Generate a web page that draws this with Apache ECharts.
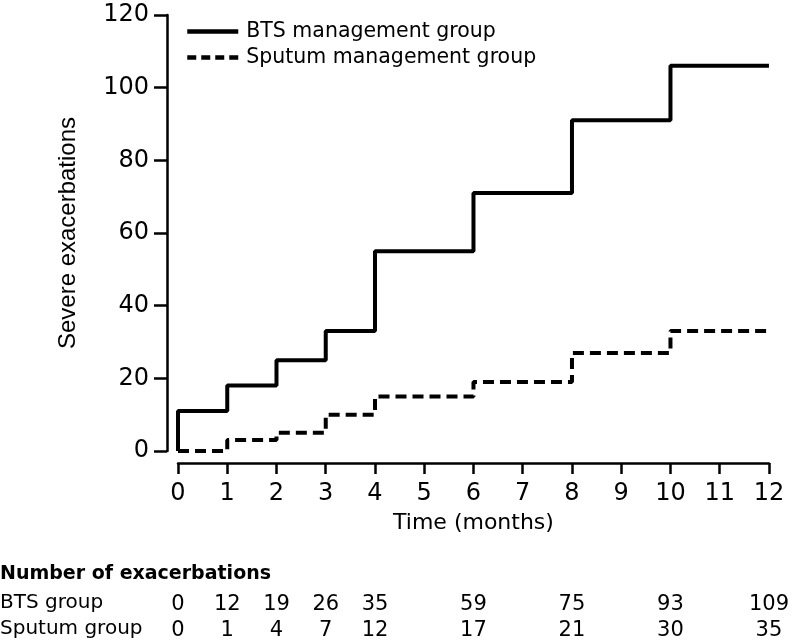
<!DOCTYPE html>
<html><head><meta charset="utf-8">
<script src="https://cdn.jsdelivr.net/npm/echarts@6/dist/echarts.min.js"></script>
<style>html,body{margin:0;padding:0;background:#fff}#c{width:792px;height:644px}</style>
</head><body><div id="c"></div>
<script>
const months = [0, 0, 1, 2, 3, 4, 6, 8, 10, 12];
const btsLevels = [0, 11, 18, 25, 33, 55, 71, 91, 106, 106];
const sputumLevels = [0, 0, 3, 5, 10, 15, 19, 27, 33, 33];
const seriesNames = ['BTS management group', 'Sputum management group'];
const tableMonths = [0, 1, 2, 3, 4, 6, 8, 10, 12];
const btsCounts = [0, 12, 19, 26, 35, 59, 75, 93, 109];
const sputumCounts = [0, 1, 4, 7, 12, 17, 21, 30, 35];
const rowNames = ['BTS group', 'Sputum group'];
const tableTitle = 'Number of exacerbations';
const xTicks = [0,1,2,3,4,5,6,7,8,9,10,11,12];

const dj = '"DejaVu Sans", sans-serif';
const chart = echarts.init(document.getElementById('c'), null, {renderer: 'canvas'});
function tableAxis(counts, off) {
  return {
    type: 'value', min: 0, max: 12, interval: 1, position: 'bottom', offset: off,
    axisLine: {show: false, onZero: false}, axisTick: {show: false}, splitLine: {show: false},
    axisLabel: {
      margin: 0, verticalAlign: 'middle', showMinLabel: true, showMaxLabel: true,
      fontFamily: dj, fontSize: 21, color: '#000',
      formatter: v => { const i = tableMonths.indexOf(v); return i >= 0 ? String(counts[i]) : ''; }
    }
  };
}
chart.setOption({
  animation: false,
  grid: {left: 178, right: 17, top: 15, bottom: 193, containLabel: false},
  legend: {
    left: 185, top: 21, padding: 0, orient: 'vertical', itemWidth: 51, itemHeight: 14, itemGap: 5,
    itemStyle: {opacity: 0},
    textStyle: {fontFamily: dj, fontSize: 20.5, color: '#000', padding: [0, 0, 0, 3]},
    data: [
      {name: seriesNames[0], lineStyle: {width: 4.5, type: 'solid', color: '#000'}},
      {name: seriesNames[1], lineStyle: {width: 4.5, type: [9, 5], color: '#000'}}
    ]
  },
  xAxis: [{
    type: 'value', min: 0, max: 12, interval: 1, offset: 12,
    name: 'Time (months)', nameLocation: 'middle', nameGap: 49,
    nameTextStyle: {fontFamily: dj, fontSize: 22, color: '#000'},
    axisLine: {onZero: false, lineStyle: {color: '#000', width: 2.5}},
    axisTick: {length: 11, lineStyle: {color: '#000', width: 2.5}},
    splitLine: {show: false},
    axisLabel: {margin: 19, fontFamily: dj, fontSize: 24, color: '#000',
      showMinLabel: true, showMaxLabel: true, formatter: v => xTicks.includes(v) ? String(v) : ''}
  }, tableAxis(btsCounts, 154), tableAxis(sputumCounts, 180)],
  yAxis: {
    type: 'value', min: 0, max: 120, interval: 20, offset: 11,
    name: 'Severe exacerbations', nameLocation: 'middle', nameGap: 87,
    nameTextStyle: {fontFamily: '"Liberation Sans", sans-serif', fontSize: 24, color: '#000'},
    axisLine: {show: true, onZero: false, lineStyle: {color: '#000', width: 2.5}},
    axisTick: {show: true, length: 13, lineStyle: {color: '#000', width: 2.5}},
    splitLine: {show: false},
    axisLabel: {margin: 18, fontFamily: dj, fontSize: 24, color: '#000'}
  },
  series: [{
    name: seriesNames[0], type: 'line', step: 'end', showSymbol: false, symbol: 'none',
    data: months.map((m, i) => [m, btsLevels[i]]),
    lineStyle: {color: '#000', width: 4, type: 'solid'}, itemStyle: {color: '#000'}
  }, {
    name: seriesNames[1], type: 'line', step: 'end', showSymbol: false, symbol: 'none',
    data: months.map((m, i) => [m, sputumLevels[i]]),
    lineStyle: {color: '#000', width: 4, type: [11, 6]}, itemStyle: {color: '#000'}
  }],
  graphic: [
    {type: 'text', left: 0, top: 565, style: {text: tableTitle, font: 'bold 19px ' + dj, fill: '#000'}},
    {type: 'text', left: 0, top: 593, style: {text: rowNames[0], font: '20px ' + dj, fill: '#000'}},
    {type: 'text', left: 0, top: 619, style: {text: rowNames[1], font: '20px ' + dj, fill: '#000'}}
  ]
});
</script></body></html>
